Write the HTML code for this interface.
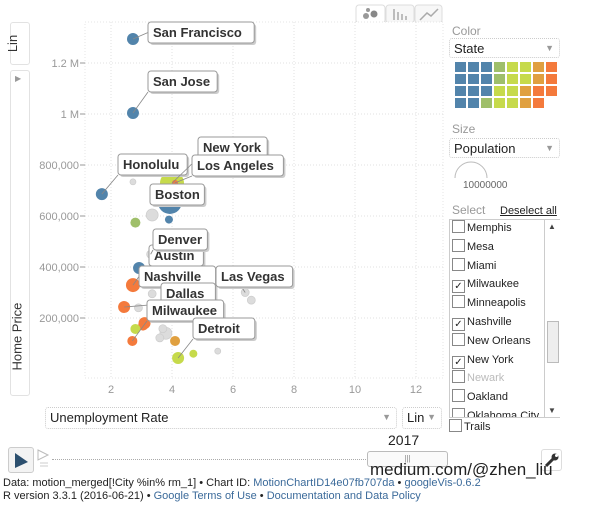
<!DOCTYPE html>
<html><head><meta charset="utf-8">
<style>
body{margin:0;width:600px;height:506px;background:#fff;font-family:"Liberation Sans",Arial,sans-serif;overflow:hidden;position:relative}
.abs{position:absolute}
.box{position:absolute;border:1px solid #e2e2e2;border-radius:3px;background:#fff}
.dd{position:absolute;border:1px dotted #ccc;border-radius:3px;font-size:13px;color:#222;padding:2px 4px;box-sizing:border-box}
.dd .arr{position:absolute;right:5px;top:4px;color:#999;font-size:9px}
.lbl{color:#999;font-size:12px}
.item{position:absolute;left:452px;font-size:11px;color:#222;height:18px;line-height:18px}
.cb{display:inline-block;width:11px;height:11px;border:1px solid #888;vertical-align:-2px;margin-right:2px;background:#fff;font-size:10px;line-height:11px;text-align:center}
.foot{position:absolute;left:3px;font-size:11px;color:#222}
.lnk{color:#3b6a9a}
</style></head><body>

<div class="box" style="left:10px;top:22px;width:18px;height:41px"></div>
<div class="abs" style="left:4px;top:36px;transform:rotate(-90deg);font-size:13px;color:#333">Lin</div>
<div class="box" style="left:10px;top:70px;width:18px;height:324px"></div>
<div class="abs" style="left:15px;top:74px;font-size:8px;color:#999">▶</div>
<div class="abs" style="left:-18px;top:328px;transform:rotate(-90deg);font-size:13px;color:#333;width:70px">Home Price</div>

<svg class="abs" style="left:0;top:0" width="600" height="440" id="chart">
 <g>
  <rect x="356" y="5" width="29" height="18" rx="3" fill="#fff" stroke="#ddd"/>
  <circle cx="366" cy="16" r="3" fill="#999"/><circle cx="368" cy="10" r="2" fill="#999"/><circle cx="374" cy="14" r="3.5" fill="#888"/>
  <rect x="386" y="5" width="28" height="18" rx="3" fill="#f7f7f7" stroke="#ddd"/>
  <path d="M394 20V9M398 20V12M402 20V14M406 20V16" stroke="#aaa" stroke-width="1.5"/>
  <rect x="415" y="5" width="27" height="18" rx="3" fill="#f7f7f7" stroke="#ddd"/>
  <path d="M420 20L427 13L431 16L438 9" stroke="#aaa" stroke-width="1.5" fill="none"/>
 </g>
 <rect x="85" y="22" width="358" height="356" fill="#fff" stroke="#e4e4e4" stroke-dasharray="1,2"/>
 <g id="grid"></g><g id="ticks"></g><g id="marks"></g><g id="labels"></g>
</svg>

<div class="dd" style="left:45px;top:407px;width:352px;height:22px;font-size:13px">Unemployment Rate<span class="arr">▼</span></div>
<div class="dd" style="left:402px;top:407px;width:40px;height:22px">Lin<span class="arr">▼</span></div>

<div class="abs lbl" style="left:452px;top:24px">Color</div>
<div class="dd" style="left:449px;top:38px;width:111px;height:20px">State<span class="arr">▼</span></div>
<svg class="abs" style="left:450px;top:60px" width="110" height="55" id="swatches"></svg>
<div class="abs lbl" style="left:452px;top:122px">Size</div>
<div class="dd" style="left:449px;top:138px;width:111px;height:20px">Population<span class="arr">▼</span></div>
<svg class="abs" style="left:450px;top:160px" width="60" height="20"><path d="M5 18 A16 16 0 0 1 37 18" fill="none" stroke="#bbb"/></svg>
<div class="abs" style="left:463px;top:180px;font-size:10px;color:#666">10000000</div>
<div class="abs lbl" style="left:452px;top:203px">Select</div>
<div class="abs" style="left:500px;top:205px;font-size:11px;color:#222;text-decoration:underline">Deselect all</div>
<div class="abs" style="left:449px;top:219px;width:111px;height:199px;border:1px solid #ccc;box-sizing:border-box"></div>
<div class="abs" style="left:544px;top:220px;width:15px;height:197px;border-left:1px solid #ccc;background:#fff">
 <div style="position:absolute;top:2px;left:3px;font-size:8px;color:#444">▲</div>
 <div style="position:absolute;top:101px;left:2px;width:10px;height:40px;border:1px solid #bbb;background:#eee"></div>
 <div style="position:absolute;bottom:2px;left:3px;font-size:8px;color:#444">▼</div>
</div>
<div id="list"></div>
<div class="item" style="top:418px;left:449px;font-size:11px"><span class="cb"></span>Trails</div>

<div class="abs" style="left:8px;top:447px;width:24px;height:24px;border:1px solid #ccc;border-radius:3px;background:#f3f3f3"><svg width="24" height="24"><path d="M6 5L19 14L6 20Z" fill="#2c4f6e"/></svg></div>
<svg class="abs" style="left:36px;top:448px" width="16" height="22"><path d="M2 2L12 7L2 12Z" fill="none" stroke="#bbb"/><path d="M4 15H12M4 18H12" stroke="#ccc"/></svg>
<div class="abs" style="left:52px;top:459px;width:316px;border-top:1px dotted #aaa"></div>
<div class="abs" style="left:367px;top:451px;width:79px;height:14px;border:1px solid #bbb;border-radius:3px;background:#fafafa;font-size:8px;color:#888;text-align:center;line-height:14px">|||</div>
<div class="abs" style="left:388px;top:432px;font-size:14px;color:#222">2017</div>
<div class="abs" style="left:541px;top:449px;width:19px;height:20px;border:1px solid #ddd;border-radius:3px"><svg width="19" height="20"><path d="M4 16L11 9" stroke="#333" stroke-width="3"/><circle cx="13" cy="7" r="3.5" fill="#333"/><circle cx="14.5" cy="5.5" r="1.5" fill="#fff"/></svg></div>
<div class="abs" style="left:370px;top:460px;font-size:17px;color:#222">medium.com/@zhen_liu</div>
<div class="foot" style="top:477px">Data: motion_merged[!City %in% rm_1] • Chart ID: <span class="lnk">MotionChartID14e07fb707da</span> • <span class="lnk">googleVis-0.6.2</span></div>
<div class="foot" style="top:490px">R version 3.3.1 (2016-06-21) • <span class="lnk">Google Terms of Use</span> • <span class="lnk">Documentation and Data Policy</span></div>

<script>
const cities=["San Francisco","San Jose","Honolulu","New York","Boston","Los Angeles","Austin","Nashville","Dallas","Milwaukee","Detroit","Las Vegas","Denver","c1","c2","c3","c4","c5","c6","c7","c8","c9","c10","c11","c12","c13","c14","c15","c16"];
const unemp=[2.72,2.72,1.7,4.0,3.93,4.1,2.92,2.72,2.43,2.7,4.2,6.4,3.3,2.72,3.35,2.8,3.9,3.1,3.05,2.8,3.35,2.9,3.6,3.8,4.1,3.7,6.6,4.7,5.5];
const price=[1294000,1004000,686000,729000,655000,730000,396000,329000,243000,110000,43000,300000,450000,734000,604000,574000,586000,180000,170000,157000,295000,240000,122000,140000,110000,158000,270000,60000,70000];
const radius=[6,6,6,12,12,3,6,7,6,5,6,4,4,3,6,5,4,6,5,5,4,4,4,6,5,4,4,4,3];
const group=["b","b","b","g","b","o","b","o","o","o","g","x","x","x","x","gb","b","o","o","g","x","x","x","x","go","x","x","g","x"];
const labelBox={"San Francisco":[148,22],"San Jose":[148,71],"Honolulu":[118,154],"New York":[198,137],"Los Angeles":[192,155],"Boston":[150,184],"Denver":[153,229],"Austin":[149,245],"Nashville":[139,266],"Las Vegas":[216,266],"Dallas":[161,283],"Milwaukee":[147,300],"Detroit":[193,318]};
const xTicks=[2,4,6,8,10,12];
const yTicks=[200000,400000,600000,800000,1000000,1200000];
const yTickLabels=["200,000","400,000","600,000","800,000","1 M","1.2 M"];
const listItems=["Memphis","Mesa","Miami","Milwaukee","Minneapolis","Nashville","New Orleans","New York","Newark","Oakland","Oklahoma City"];
const listChecked=[0,0,0,1,0,1,0,1,0,0,0];
const swatchRows=[["b","b","b","gb","g","g","go","o"],["b","b","b","gb","g","g","go","o"],["b","b","b","g","g","go","o","o"],["b","b","gb","g","g","go","o",""]];

const NS="http://www.w3.org/2000/svg";
const xs=u=>50+30.5*u, ys=v=>369-51*v/200000;
const col={b:"#5284ab",g:"#c6da4b",o:"#f47a3c",x:"#dcdcdc",gb:"#9fbf6a",go:"#e0a040"};
function mk(t,a,p){const e=document.createElementNS(NS,t);for(const k in a)e.setAttribute(k,a[k]);p.appendChild(e);return e;}
const grid=document.getElementById("grid"),ticks=document.getElementById("ticks"),marks=document.getElementById("marks"),labels=document.getElementById("labels");
xTicks.forEach(t=>{const x=xs(t);
 const l=mk("line",{x1:x,x2:x,y1:22,y2:378,stroke:"#e0e0e0","stroke-dasharray":"1,2"},grid);
 
 
 const tx=mk("text",{x:x,y:393,"text-anchor":"middle","font-size":"11",fill:"#999"},ticks);tx.textContent=t;
 
 
});
yTicks.forEach((t,i)=>{const y=ys(t);
 const l=mk("line",{x1:85,x2:443,y1:y,y2:y,stroke:"#e0e0e0","stroke-dasharray":"1,2"},grid);
 
 
 mk("line",{x1:80,x2:85,y1:y,y2:y,stroke:"#999"},ticks);
 const tx=mk("text",{x:79,y:y+4,"text-anchor":"end","font-size":"11",fill:"#999"},ticks);tx.textContent=yTickLabels[i];
 
 
});
const order=cities.map((c,i)=>i).sort((a,b)=>radius[b]-radius[a]);
order.forEach(i=>{
 const g=group[i];
 const c=mk("circle",{cx:xs(unemp[i]),cy:ys(price[i]),r:radius[i],fill:col[g],stroke:g==="x"?"#ccc":"none","stroke-width":"0.7"},marks);
 
 
});
cities.forEach((c,i)=>{
 const b=labelBox[c]; if(!b) return;
 const w=c.length*7.4+10, h=21;
 const px=xs(unemp[i]), py=ys(price[i]);
 const ay=py<b[1]?b[1]:b[1]+h;
 mk("line",{x1:px,y1:py,x2:b[0]+(px<b[0]?0:w/3),y2:Math.min(Math.max(py,b[1]),b[1]+h)===py?b[1]+h/2:ay,stroke:"#888","stroke-width":"0.8"},labels);
 const g=mk("g",{},labels);
 
 
 mk("rect",{x:b[0]+2,y:b[1]+2,width:w,height:h,rx:3,fill:"#ccc"},g);
 mk("rect",{x:b[0],y:b[1],width:w,height:h,rx:3,fill:"#fff",stroke:"#999"},g);
 const t=mk("text",{x:b[0]+5,y:b[1]+15,"font-size":"13","font-weight":"bold",fill:"#333"},g);t.textContent=c;
});
const sw=document.getElementById("swatches");
swatchRows.forEach((r,ri)=>r.forEach((k,ci)=>{ if(!k) return;
 const s=mk("rect",{x:5+ci*13,y:2+ri*12,width:11,height:10,fill:col[k]},sw);
 
 
}));
const list=document.getElementById("list");
listItems.forEach((n,i)=>{
 const d=document.createElement("div");d.className="item";d.style.top=(219+i*18.8)+"px";
 if(n==="Newark")d.style.color="#bbb";
 if(i===listItems.length-1){d.style.height="10px";d.style.overflow="hidden";}
 d.innerHTML='<span class="cb">'+(listChecked[i]?'✓':'')+'</span>'+n;
 
 
 list.appendChild(d);
});
</script>
</body></html>
